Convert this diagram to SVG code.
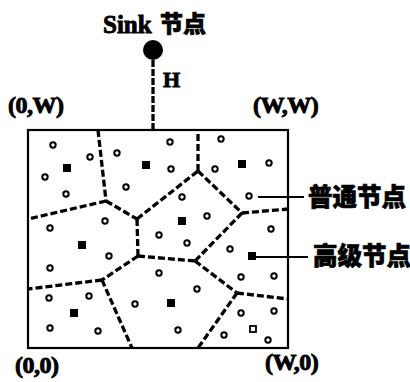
<svg xmlns="http://www.w3.org/2000/svg" width="410" height="382" viewBox="0 0 410 382">
<style>
.lbl{font-family:"Liberation Serif","Noto Sans CJK SC",serif;font-weight:bold;fill:#000;stroke:#000;stroke-width:0.9}
.cjk{font-family:"Noto Sans CJK SC",sans-serif;font-weight:900;fill:#000;stroke:#000;stroke-width:0.7}
.c{fill:#fff;stroke:#000;stroke-width:2}
.s{fill:#000}
.hs{fill:#fff;stroke:#000;stroke-width:1.8}
.dash{stroke:#000;stroke-width:3.3;stroke-dasharray:7 3;fill:none}
.lead{stroke:#000;stroke-width:2}
</style>
<rect width="410" height="382" fill="#fff"/>
<rect x="28" y="130" width="260" height="218" fill="none" stroke="#000" stroke-width="2.2"/>
<g id="connectors">
<line class="dash" x1="153" y1="60" x2="153" y2="130" style="stroke-dasharray:7 2"/>
<line class="dash" x1="98" y1="130" x2="106" y2="201"/>
<line class="dash" x1="106" y1="201" x2="28" y2="219"/>
<line class="dash" x1="106" y1="201" x2="137" y2="219"/>
<line class="dash" x1="137" y1="219" x2="138" y2="256"/>
<line class="dash" x1="137" y1="219" x2="198" y2="171"/>
<line class="dash" x1="198" y1="171" x2="198" y2="130"/>
<line class="dash" x1="198" y1="171" x2="242" y2="213"/>
<line class="dash" x1="242" y1="213" x2="288" y2="209"/>
<line class="dash" x1="242" y1="213" x2="195" y2="261"/>
<line class="dash" x1="138" y1="256" x2="195" y2="261"/>
<line class="dash" x1="195" y1="261" x2="237" y2="293"/>
<line class="dash" x1="237" y1="293" x2="288" y2="299"/>
<line class="dash" x1="237" y1="293" x2="198" y2="348"/>
<line class="dash" x1="138" y1="256" x2="102" y2="280"/>
<line class="dash" x1="102" y1="280" x2="28" y2="289"/>
<line class="dash" x1="102" y1="280" x2="132" y2="348"/>
<line class="lead" x1="258" y1="197" x2="304" y2="197"/>
<line class="lead" x1="256" y1="257" x2="308" y2="257"/>
</g>
<g id="sink"><circle cx="153" cy="50" r="10" fill="#000"/>
<text class="lbl" x="103" y="33" font-size="25">Sink</text><text class="cjk" x="160" y="32" font-size="23">节点</text></g>
<g id="labelH"><text class="lbl" x="163" y="87" font-size="22">H</text></g>
<g id="corners">
<text class="lbl" x="8" y="113" font-size="24" letter-spacing="-0.5">(0,W)</text>
<text class="lbl" x="253" y="113" font-size="24" letter-spacing="-0.5">(W,W)</text>
<text class="lbl" x="15" y="373" font-size="24" letter-spacing="-0.5">(0,0)</text>
<text class="lbl" x="265" y="370" font-size="24" letter-spacing="-0.5">(W,0)</text>
</g>
<g id="legend-normal"><text class="cjk" x="308" y="206" font-size="24.5">普通节点</text></g>
<g id="legend-advanced"><text class="cjk" x="313" y="265" font-size="24.5">高级节点</text></g>
<g id="cell1"><circle class="c" cx="53" cy="145" r="2.7"/><circle class="c" cx="90" cy="157" r="2.7"/><circle class="c" cx="45" cy="177" r="2.7"/><circle class="c" cx="66" cy="194" r="2.7"/><rect class="s" x="63" y="164" width="8" height="8"/></g>
<g id="cell2"><circle class="c" cx="117" cy="153" r="2.7"/><circle class="c" cx="126" cy="187" r="2.7"/><circle class="c" cx="170" cy="142" r="2.7"/><circle class="c" cx="171" cy="169" r="2.7"/><rect class="s" x="142" y="161" width="8" height="8"/></g>
<g id="cell3"><circle class="c" cx="221" cy="139" r="2.7"/><circle class="c" cx="215" cy="169" r="2.7"/><circle class="c" cx="269" cy="163" r="2.7"/><circle class="c" cx="249" cy="196" r="2.7"/><rect class="s" x="238" y="160" width="8" height="8"/></g>
<g id="cell4"><circle class="c" cx="182" cy="197" r="2.7"/><circle class="c" cx="207" cy="216" r="2.7"/><circle class="c" cx="159" cy="235" r="2.7"/><circle class="c" cx="187" cy="243" r="2.7"/><rect class="s" x="178" y="217" width="8" height="8"/></g>
<g id="cell5"><circle class="c" cx="105" cy="221" r="2.7"/><circle class="c" cx="50" cy="228" r="2.7"/><circle class="c" cx="109" cy="256" r="2.7"/><circle class="c" cx="50" cy="268" r="2.7"/><rect class="s" x="78" y="241" width="8" height="8"/></g>
<g id="cell6"><circle class="c" cx="271" cy="229" r="2.7"/><circle class="c" cx="230" cy="249" r="2.7"/><circle class="c" cx="241" cy="277" r="2.7"/><circle class="c" cx="274" cy="276" r="2.7"/><rect class="s" x="248" y="252" width="8" height="8"/></g>
<g id="cell7"><circle class="c" cx="49" cy="298" r="2.7"/><circle class="c" cx="89" cy="296" r="2.7"/><circle class="c" cx="50" cy="328" r="2.7"/><circle class="c" cx="98" cy="331" r="2.7"/><rect class="s" x="70" y="309" width="8" height="8"/></g>
<g id="cell8"><circle class="c" cx="159" cy="273" r="2.7"/><circle class="c" cx="135" cy="304" r="2.7"/><circle class="c" cx="197" cy="289" r="2.7"/><circle class="c" cx="178" cy="330" r="2.7"/><rect class="s" x="167" y="299" width="8" height="8"/></g>
<g id="cell9"><circle class="c" cx="241" cy="313" r="2.7"/><circle class="c" cx="274" cy="311" r="2.7"/><circle class="c" cx="224" cy="335" r="2.7"/><circle class="c" cx="268" cy="340" r="2.7"/><rect class="hs" x="250" y="326" width="6" height="6"/></g>
</svg>
